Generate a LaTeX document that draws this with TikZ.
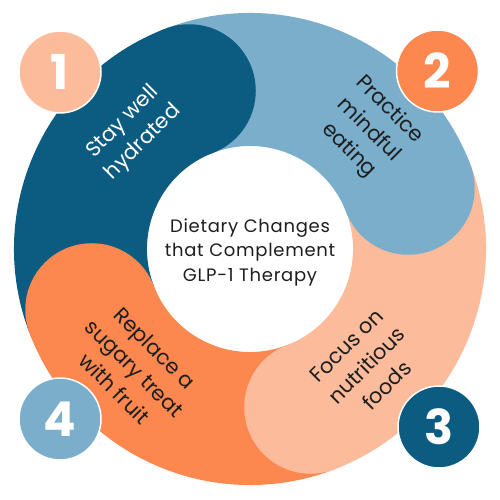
\documentclass[tikz,border=0pt]{standalone}
\usepackage{fontspec}
\setmainfont{Poppins}
\definecolor{dblue}{RGB}{12,92,130}
\definecolor{lblue}{RGB}{122,174,202}
\definecolor{peach}{RGB}{252,188,156}
\definecolor{orng}{RGB}{252,135,79}
\definecolor{ink}{RGB}{30,30,30}
\begin{document}
\begin{tikzpicture}[x=1pt,y=1pt,
  seg/.style={line width=133pt},
  numc/.style={circle, minimum size=82pt, inner sep=0pt, draw=white, line width=1.5pt, text=white, font=\fontsize{48}{48}\selectfont\bfseries},
  lab/.style={align=center, font=\fontsize{21}{28.5}\selectfont, text=ink},
  ctr/.style={align=center, font=\fontsize{18}{24.5}\selectfont\addfontfeatures{LetterSpace=4}, text=ink}]
\useasboundingbox (0,0) rectangle (500,500);
\fill[white] (0,0) rectangle (500,500);
\coordinate (C) at (250,251);
% ring segments
\draw[seg,dblue] ([shift={(201:169.5)}]C) arc[start angle=201,end angle=111,radius=169.5];
\draw[seg,lblue] ([shift={(111:169.5)}]C) arc[start angle=111,end angle=21,radius=169.5];
\draw[seg,peach] ([shift={(21:169.5)}]C) arc[start angle=21,end angle=-69,radius=169.5];
\draw[seg,orng] ([shift={(-69:169.5)}]C) arc[start angle=-69,end angle=-159,radius=169.5];
% rounded heads
\fill[dblue] ([shift={(111:169.5)}]C) circle[radius=66.5];
\fill[lblue] ([shift={(21:169.5)}]C) circle[radius=66.5];
\fill[peach] ([shift={(-69:169.5)}]C) circle[radius=66.5];
\fill[orng] ([shift={(-159:169.5)}]C) circle[radius=66.5];
% labels
\node[lab,text=white,rotate=45] (l1) at ([shift={(135:165)}]C) {Stay well\\hydrated};
\node[lab,rotate=-45] (l2) at ([shift={(45:168)}]C) {Practice\\mindful\\eating};
\node[lab,rotate=45] (l3) at ([shift={(-45:165)}]C) {Focus on\\nutritious\\foods};
\node[lab,rotate=-45] (l4) at ([shift={(226:166)}]C) {Replace a\\sugary treat\\with fruit};
% centre
\node[ctr] (centre) at (250,248) {Dietary Changes\\that Complement\\GLP-1 Therapy};
% numbers
\node[numc,fill=peach] (n1) at (60,428) {1};
\node[numc,fill=orng] (n2) at (437.5,429) {2};
\node[numc,fill=dblue] (n3) at (439,73) {3};
\node[numc,fill=lblue] (n4) at (60,81) {4};
\end{tikzpicture}
\end{document}
